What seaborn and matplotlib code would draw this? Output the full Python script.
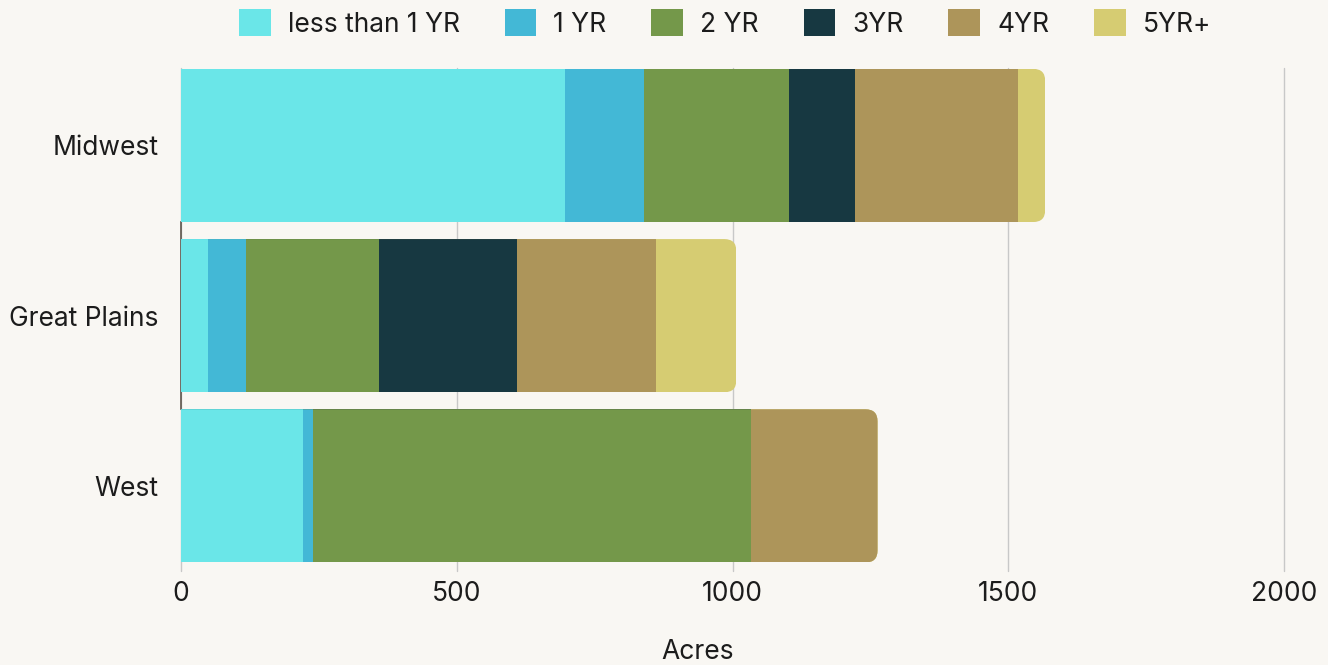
import numpy as np
import pandas as pd
import seaborn as sns
import matplotlib.pyplot as plt
from matplotlib.patches import FancyBboxPatch, Patch

# Acres by region and lease term
regions = ["Midwest", "Great Plains", "West"]
terms = ["less than 1 YR", "1 YR", "2 YR", "3YR", "4YR", "5YR+"]
less_than_1yr = [697, 49, 221]
yr_1 = [143, 69, 18]
yr_2 = [263, 241, 795]
yr_3 = [120, 250, 0]
yr_4 = [295, 253, 229]
yr_5_plus = [49, 145, 0]
term_colors = ["#6ae6e8", "#43b8d6", "#74984a", "#173841", "#ad955a", "#d6cc72"]
x_ticks = [0, 500, 1000, 1500, 2000]

series = [less_than_1yr, yr_1, yr_2, yr_3, yr_4, yr_5_plus]
bg = "#f9f7f3"
text_color = "#1c1c1c"
fs = 19

sns.set_theme(style="white")
plt.rcParams["font.family"] = ["Inter", "DejaVu Sans"]

fig = plt.figure(figsize=(13.28, 6.65), dpi=100, facecolor=bg)
ax = fig.add_axes([181 / 1328, 1 - 571 / 665, 1103 / 1328, (571 - 68) / 665])
ax.set_facecolor(bg)

bar_h = 0.9
cum = np.cumsum(np.array(series), axis=0)
totals = cum[-1]

# Stacked bars drawn as overlapping cumulative layers, outermost first
for k in range(len(terms) - 1, -1, -1):
    df = pd.DataFrame({"region": regions, "acres": cum[k]})
    sns.barplot(data=df, x="acres", y="region", orient="h", order=regions,
                color=term_colors[k], saturation=1, width=bar_h,
                edgecolor="none", linewidth=0, ax=ax, zorder=2)

# Rounded right end for each stacked row
px_per_x = 1103 / 2000
px_per_y = (571 - 68) / 2.955
radius_px = 12
rx = radius_px / px_per_x
aspect = (radius_px / px_per_y) / rx
clips = []
for i, total in enumerate(totals):
    clip = FancyBboxPatch((-200, i - bar_h / 2), total + 200, bar_h,
                          boxstyle=f"round,pad=0,rounding_size={rx}",
                          mutation_aspect=aspect, transform=ax.transData)
    clips.append(clip)
for p in ax.patches:
    row = int(round(p.get_y() + p.get_height() / 2))
    p.set_clip_path(clips[row])

ax.set_xlim(0, 2000)
ax.set_ylim(2.5, -0.455)
ax.set_xticks(x_ticks)
ax.set_xticklabels([str(t) for t in x_ticks])

ax.xaxis.grid(True, color="#c8c8c8", linewidth=1)
ax.yaxis.grid(False)
ax.set_axisbelow(True)
for gl in ax.get_xgridlines():
    gl.set_clip_on(False)

for s in ["top", "right", "bottom"]:
    ax.spines[s].set_visible(False)
ax.spines["left"].set_color("#5e554c")
ax.spines["left"].set_linewidth(1.2)
ax.spines["left"].set_zorder(0.8)
ax.spines["left"].set_bounds(bar_h / 2, len(regions) - 1 - bar_h / 2)

ax.tick_params(axis="x", length=0, pad=7, labelsize=fs, labelcolor=text_color)
ax.tick_params(axis="y", length=0, pad=16, labelsize=fs, labelcolor=text_color)
ax.set_ylabel("")
ax.set_xlabel("Acres", fontsize=fs, color=text_color)
ax.xaxis.set_label_coords((698 - 181) / 1103, -(652 - 571) / 503, transform=ax.transAxes)
ax.xaxis.label.set_va("center")

handles = [Patch(facecolor=c, edgecolor="none") for c in term_colors]
fig.legend(handles, terms, loc="upper center", bbox_to_anchor=(0.546, 1.012),
           ncol=6, frameon=False, fontsize=fs, handlelength=1.2,
           handleheight=1.2, handletextpad=0.65, columnspacing=1.7,
           borderaxespad=0.25, labelcolor=text_color)

fig.savefig("out.png", dpi=100, facecolor=bg)
